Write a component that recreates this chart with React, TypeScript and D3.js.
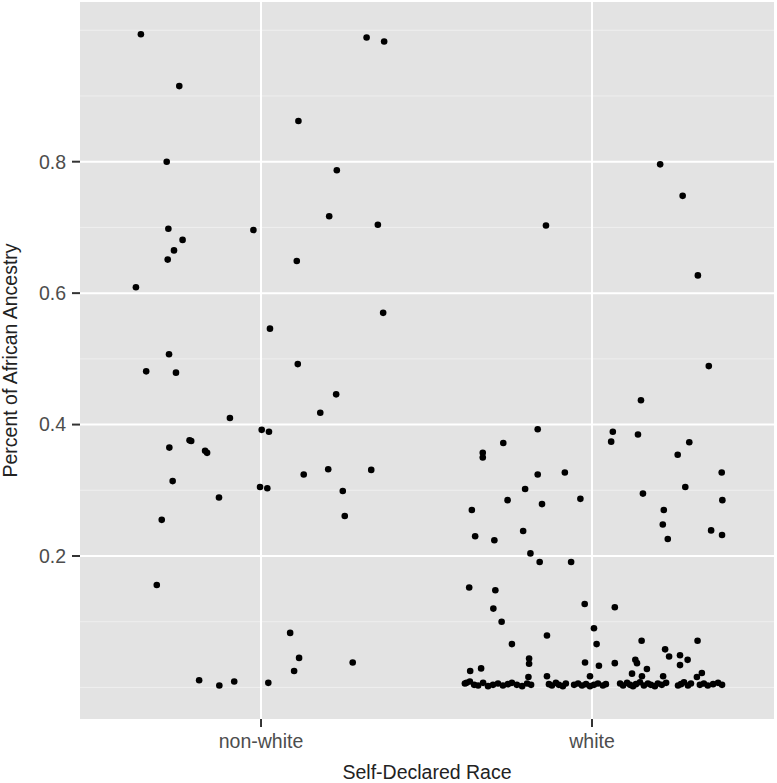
import React from "react";
import * as d3 from "d3";

// categories on the x axis
const races = ["non-white", "white"];

// jitter offsets (in category widths) and ancestry share
const nonWhiteJitter = [
  -0.363, -0.247, -0.285, -0.28, -0.023, -0.237, -0.263, -0.282, -0.378, -0.278,
  -0.347, -0.257, -0.094, -0.216, -0.211, -0.277, -0.169, -0.163, -0.267, -0.127,
  -0.3, -0.315, -0.187, -0.126, -0.081,
  0.319, 0.372, 0.113, 0.229, 0.206, 0.353, 0.108, 0.369, 0.027, 0.111,
  0.227, 0.179, 0.002, 0.024, 0.129, 0.203, 0.333, -0.003, 0.019, 0.247,
  0.253, 0.088, 0.115, 0.1, 0.277, 0.022,
];
const nonWhiteAncestry = [
  0.994, 0.915, 0.8, 0.698, 0.696, 0.681, 0.665, 0.651, 0.609, 0.507,
  0.481, 0.479, 0.41, 0.376, 0.375, 0.365, 0.36, 0.357, 0.314, 0.289,
  0.255, 0.156, 0.011, 0.003, 0.009,
  0.989, 0.983, 0.862, 0.787, 0.717, 0.704, 0.649, 0.57, 0.546, 0.492,
  0.446, 0.418, 0.392, 0.389, 0.324, 0.332, 0.331, 0.305, 0.303, 0.299,
  0.261, 0.083, 0.045, 0.025, 0.038, 0.007,
];

const whiteJitter = [
  -0.379, -0.369, -0.368, -0.335, -0.371, -0.292, -0.298, -0.273, -0.242, -0.353,
  -0.295, -0.363, -0.255, -0.33, -0.33, -0.268, -0.139, -0.208, -0.186, -0.158,
  -0.063, -0.202, -0.151, -0.164, -0.082, -0.164, -0.035, -0.19, -0.19, -0.192,
  -0.136, -0.136, -0.022, 0.069, 0.006, 0.014, -0.021, 0.021, -0.006, 0.069,
  0.121, 0.131, 0.136, 0.15, 0.151, 0.166, 0.221, 0.233, 0.266, 0.289,
  0.266, 0.215, 0.319, 0.317, 0.332, 0.058, 0.063, 0.139, 0.154, 0.148,
  0.206, 0.274, 0.32, 0.353, 0.294, 0.259, 0.282, 0.217, 0.214, 0.229,
  0.392, 0.394, 0.36, 0.393,
  // near-zero cluster
  -0.384, -0.356, -0.344, -0.329, -0.314, -0.299, -0.284, -0.269, -0.254, -0.242,
  -0.227, -0.211, -0.196, -0.184, -0.13, -0.121, -0.109, -0.1, -0.088, -0.079,
  -0.054, -0.042, -0.03, -0.018, -0.006, 0.006, 0.018, 0.033, 0.042, 0.085,
  0.094, 0.106, 0.115, 0.124, 0.133, 0.145, 0.157, 0.169, 0.178, 0.19,
  0.199, 0.211, 0.224, 0.26, 0.269, 0.278, 0.29, 0.299, 0.326, 0.338,
  0.35, 0.366, 0.381, 0.393,
];
const whiteAncestry = [
  0.007, 0.009, 0.025, 0.029, 0.152, 0.148, 0.12, 0.1, 0.066, 0.23,
  0.224, 0.27, 0.285, 0.357, 0.35, 0.372, 0.703, 0.238, 0.204, 0.191,
  0.191, 0.302, 0.279, 0.324, 0.327, 0.393, 0.287, 0.044, 0.036, 0.016,
  0.017, 0.079, 0.127, 0.122, 0.09, 0.066, 0.038, 0.033, 0.017, 0.037,
  0.021, 0.042, 0.037, 0.071, 0.017, 0.028, 0.058, 0.047, 0.049, 0.042,
  0.034, 0.017, 0.071, 0.016, 0.022, 0.374, 0.389, 0.385, 0.295, 0.437,
  0.796, 0.748, 0.627, 0.489, 0.373, 0.354, 0.305, 0.27, 0.248, 0.226,
  0.327, 0.285, 0.239, 0.232,
  0.006, 0.004, 0.003, 0.007, 0.002, 0.004, 0.006, 0.003, 0.005, 0.007,
  0.004, 0.002, 0.006, 0.004, 0.005, 0.003, 0.007, 0.004, 0.002, 0.006,
  0.004, 0.006, 0.003, 0.005, 0.002, 0.004, 0.006, 0.003, 0.005, 0.006,
  0.003, 0.007, 0.004, 0.002, 0.005, 0.008, 0.003, 0.006, 0.004, 0.002,
  0.006, 0.004, 0.007, 0.003, 0.005, 0.008, 0.003, 0.006, 0.004, 0.006,
  0.003, 0.005, 0.007, 0.004,
];

const yTicks = [0.2, 0.4, 0.6, 0.8];
const yMinorTicks = [0, 0.1, 0.3, 0.5, 0.7, 0.9, 1.0];

const W = 777;
const H = 783;
const panel = { left: 80, right: 774, top: 2, bottom: 719 };
const font = "'Liberation Sans', Arial, Helvetica, sans-serif";

export default function App() {
  const x = d3.scaleLinear().domain([0.453, 2.55]).range([panel.left, panel.right]);
  const y = d3.scaleLinear().domain([-0.048, 1.043]).range([panel.bottom, panel.top]);

  const points = [
    ...nonWhiteJitter.map((j, i) => ({ x: 1 + j, y: nonWhiteAncestry[i] })),
    ...whiteJitter.map((j, i) => ({ x: 2 + j, y: whiteAncestry[i] })),
  ];

  return (
    <svg
      width={W}
      height={H}
      style={{ position: "absolute", left: 0, top: 0, background: "#fff" }}
    >
      <rect
        x={panel.left}
        y={panel.top}
        width={panel.right - panel.left}
        height={panel.bottom - panel.top}
        fill="#e3e3e3"
      />
      {yMinorTicks.map((t) => (
        <line
          key={"mn" + t}
          x1={panel.left}
          x2={panel.right}
          y1={y(t)}
          y2={y(t)}
          stroke="#efefef"
          strokeWidth={1}
        />
      ))}
      {yTicks.map((t) => (
        <line
          key={"mj" + t}
          x1={panel.left}
          x2={panel.right}
          y1={y(t)}
          y2={y(t)}
          stroke="#fff"
          strokeWidth={2}
        />
      ))}
      {races.map((r, i) => (
        <line
          key={"v" + r}
          x1={x(i + 1)}
          x2={x(i + 1)}
          y1={panel.top}
          y2={panel.bottom}
          stroke="#fff"
          strokeWidth={2}
        />
      ))}

      {points.map((p, i) => (
        <circle key={i} cx={x(p.x)} cy={y(p.y)} r={3.3} fill="#000" />
      ))}

      {/* y axis */}
      {yTicks.map((t) => (
        <g key={"yt" + t}>
          <line x1={panel.left - 8} x2={panel.left} y1={y(t)} y2={y(t)} stroke="#333" strokeWidth={2} />
          <text
            x={panel.left - 14}
            y={y(t)}
            dy="0.35em"
            textAnchor="end"
            fontFamily={font}
            fontSize={19.5}
            fill="#4d4d4d"
          >
            {t.toFixed(1)}
          </text>
        </g>
      ))}

      {/* x axis */}
      {races.map((r, i) => (
        <g key={"xt" + r}>
          <line
            x1={x(i + 1)}
            x2={x(i + 1)}
            y1={panel.bottom}
            y2={panel.bottom + 8}
            stroke="#333"
            strokeWidth={2}
          />
          <text
            x={x(i + 1)}
            y={748}
            textAnchor="middle"
            fontFamily={font}
            fontSize={19.5}
            fill="#4d4d4d"
          >
            {r}
          </text>
        </g>
      ))}

      <text
        x={(panel.left + panel.right) / 2}
        y={779}
        textAnchor="middle"
        fontFamily={font}
        fontSize={19.5}
        fill="#222"
      >
        Self-Declared Race
      </text>
      <text
        transform={`translate(17,${(panel.top + panel.bottom) / 2}) rotate(-90)`}
        textAnchor="middle"
        fontFamily={font}
        fontSize={19.5}
        fill="#222"
      >
        Percent of African Ancestry
      </text>
    </svg>
  );
}
